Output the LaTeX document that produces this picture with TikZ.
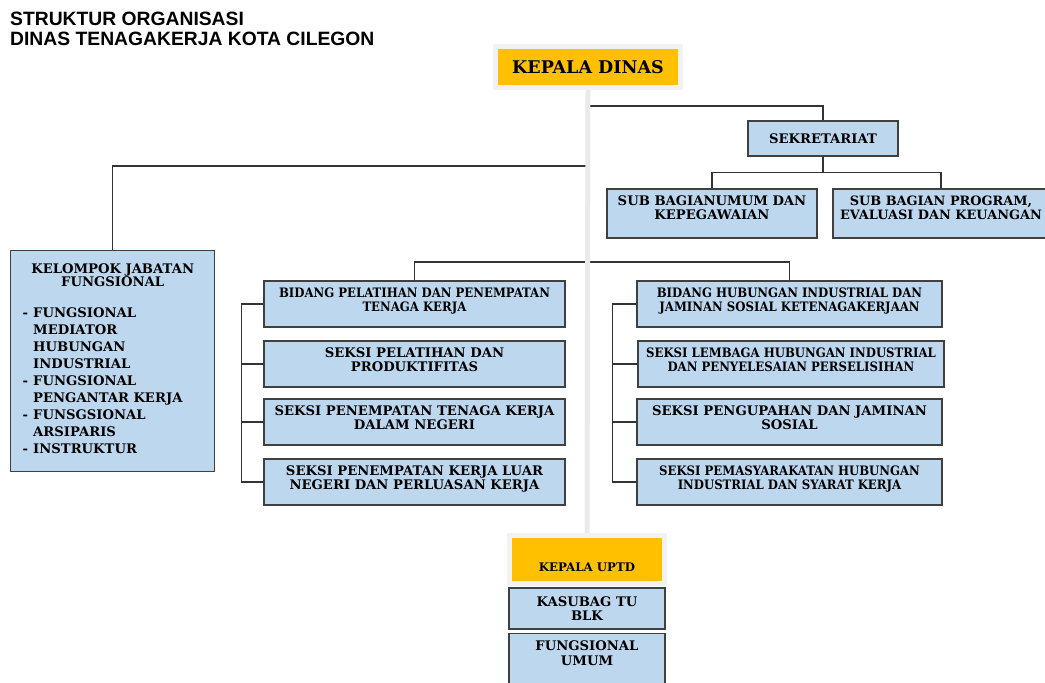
\documentclass[tikz,border=0pt]{standalone}
\usepackage{fontspec}
\setmainfont{DejaVu Serif}
\newfontfamily\condf{DejaVu Serif Condensed}
\newfontfamily\headf{Liberation Sans}
\definecolor{kepala}{HTML}{FFC000}
\definecolor{biru}{HTML}{BDD7EE}
\definecolor{garis}{HTML}{333333}
\definecolor{bingkai}{HTML}{F2F2F2}
\definecolor{batang}{HTML}{EAEAEA}
\begin{document}
\begin{tikzpicture}[x=1pt,y=-1pt]
        \useasboundingbox (0,0) rectangle (1045,683);
        \clip (0,0) rectangle (1045,683);
        \begin{scope}
            \tikzset{bnode/.style = {
                rectangle,
                draw=black!75,
                line width=1.4pt,
                fill=biru,
                align=center,
                inner sep=2pt,
                font=\bfseries\fontsize{13.2}{14.5}\selectfont } }
            \tikzset{cnode/.style = {
                bnode,
                font=\condf\bfseries\fontsize{13}{14.5}\selectfont } }
            \tikzset{knode/.style = {
                rectangle,
                draw=bingkai,
                line width=5pt,
                fill=kepala,
                align=center,
                font=\bfseries } }
            \tikzset{uedge/.style = {
                draw=garis,
                line width=1.3pt} }
            \tikzset{trunk/.style = {
                draw=batang,
                line width=5pt} }
                \node[anchor=north west, inner sep=0pt, align=left,
                    font=\headf\bfseries\fontsize{19.3}{20}\selectfont] (judul) at (10,12)
                    {STRUKTUR ORGANISASI\\DINAS TENAGAKERJA KOTA CILEGON};
                \node[knode, minimum width=185pt, minimum height=41pt,
                    font=\bfseries\fontsize{17.5}{20}\selectfont] (kd) at (588,67) {KEPALA DINAS};
                \node[bnode, minimum width=150pt, minimum height=35pt] (sekr) at (823,138.5) {SEKRETARIAT};
                \node[bnode, minimum width=210pt, minimum height=49pt, text depth=12pt] (sbu) at (712,213.5)
                    {SUB BAGIANUMUM DAN\\KEPEGAWAIAN};
                \node[bnode, minimum width=216pt, minimum height=49pt, text depth=12pt,
                    font=\bfseries\fontsize{12.9}{14.5}\selectfont] (sbp) at (941,213.5)
                    {SUB BAGIAN PROGRAM,\\EVALUASI DAN KEUANGAN};
                \node[bnode, anchor=north west, minimum width=204pt, minimum height=221pt,
                    text width=180pt, inner xsep=12pt, align=left] (kjf) at (10,250) {%
                    {\centering\fontsize{13.2}{13}\selectfont KELOMPOK JABATAN\\FUNGSIONAL\par}\vspace{18pt}%
                    \fontsize{13.2}{13}\selectfont\def\arraystretch{1.31}%
                    \begin{tabular}{@{}l@{\hspace{5pt}}l}
                        - & FUNGSIONAL\\ & MEDIATOR\\ & HUBUNGAN\\ & INDUSTRIAL\\
                        - & FUNGSIONAL\\ & PENGANTAR KERJA\\
                        - & FUNSGSIONAL\\ & ARSIPARIS\\
                        - & INSTRUKTUR
                    \end{tabular}\par\vspace{17pt}};
                \foreach \n/\y/\t in {bpp/304/{BIDANG PELATIHAN DAN PENEMPATAN\\TENAGA KERJA}}{
                    \node[cnode, minimum width=301pt, minimum height=46pt, text depth=9pt] (\n) at (414.5,\y) {\t};
                }
                \foreach \n/\y/\t in {spk/364/{SEKSI PELATIHAN DAN\\PRODUKTIFITAS},
                    spdn/422/{SEKSI PENEMPATAN TENAGA KERJA\\DALAM NEGERI},
                    spln/482/{SEKSI PENEMPATAN KERJA LUAR\\NEGERI DAN PERLUASAN KERJA}}{
                    \node[bnode, minimum width=301pt, minimum height=46pt, text depth=9pt] (\n) at (414.5,\y) {\t};
                }
                \node[cnode, minimum width=305pt, minimum height=46pt, text depth=9pt] (bhi) at (789.5,304)
                    {BIDANG HUBUNGAN INDUSTRIAL DAN\\JAMINAN SOSIAL KETENAGAKERJAAN};
                \node[cnode, minimum width=306pt, minimum height=46pt, text depth=9pt] (slhi) at (791,364)
                    {SEKSI LEMBAGA HUBUNGAN INDUSTRIAL\\DAN PENYELESAIAN PERSELISIHAN};
                \node[bnode, minimum width=305pt, minimum height=46pt, text depth=9pt] (spjs) at (789.5,422)
                    {SEKSI PENGUPAHAN DAN JAMINAN\\SOSIAL};
                \node[cnode, minimum width=305pt, minimum height=46pt, text depth=9pt] (sphi) at (789.5,482)
                    {SEKSI PEMASYARAKATAN HUBUNGAN\\INDUSTRIAL DAN SYARAT KERJA};
                \node[knode, minimum width=155pt, minimum height=48.5pt, text height=24pt, text depth=0pt,
                    font=\bfseries\fontsize{11.8}{13}\selectfont] (uptd) at (587,559.5) {KEPALA UPTD};
                \node[bnode, minimum width=156pt, minimum height=41pt] (kstu) at (587,608.5) {KASUBAG TU\\BLK};
                \node[bnode, anchor=north, minimum width=156pt, inner ysep=7pt, text depth=50pt] (fu) at (587,633)
                    {FUNGSIONAL\\UMUM};
                \coordinate (t1) at (588,106);
                \coordinate (t2) at (588,166);
                \coordinate (t3) at (588,262);
                \path (sekr.south) ++(0,16) coordinate (s0);
                \path[uedge] (t1) -| (sekr.north);
                \path[uedge] (t2) -| (kjf.north);
                \path[uedge] (sekr.south) -- (s0);
                \path[uedge] (sbu.north) |- (s0) -| (sbp.north);
                \path[uedge] (bpp.north) |- (t3) -| (bhi.north);
                \foreach \n in {spk,spdn,spln}{
                    \path[uedge] (bpp.west) -- ++(-22,0) |- (\n.west);
                }
                \foreach \n in {slhi,spjs,sphi}{
                    \path[uedge] (bhi.west) -- ++(-24,0) |- (\n.west);
                }
                \path[trunk] (kd.south) -- (uptd.north);
        \end{scope}
\end{tikzpicture}
\end{document}
